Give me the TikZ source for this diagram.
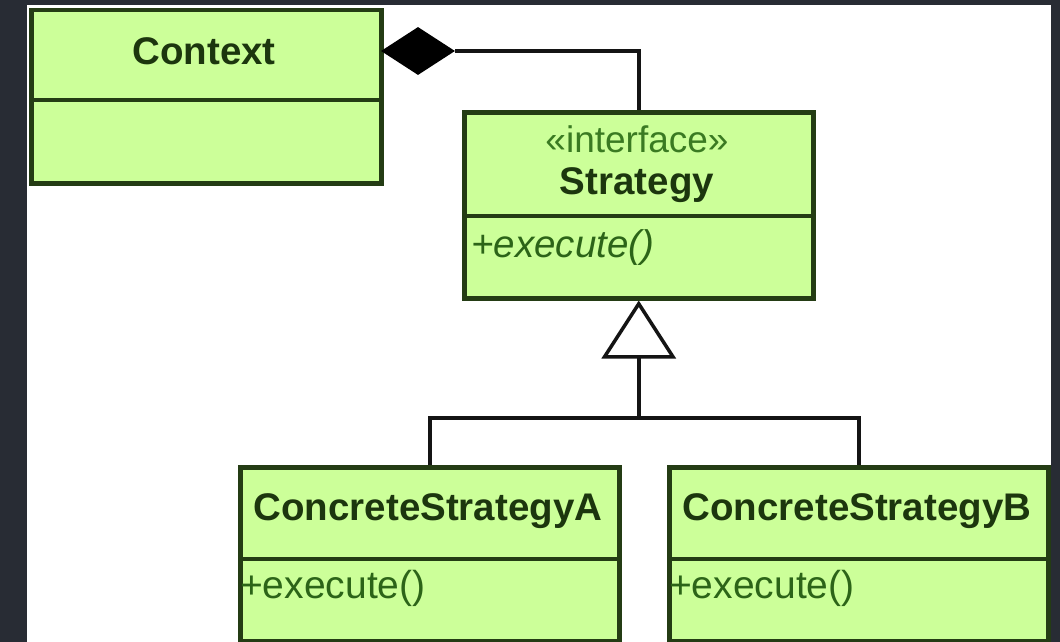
\documentclass[tikz,border=0pt]{standalone}
\usepackage{fontspec}
\setmainfont{Liberation Sans}
\usetikzlibrary{shapes.geometric,arrows.meta}
\definecolor{framecol}{HTML}{282C34}
\definecolor{classfill}{HTML}{CCFF99}
\definecolor{classline}{HTML}{243C14}
\definecolor{nametext}{HTML}{1C360E}
\definecolor{softtext}{HTML}{3A7A22}
\definecolor{methtext}{HTML}{2C6418}
\definecolor{wire}{HTML}{141414}
\begin{document}
\begin{tikzpicture}[x=1pt,y=-1pt,
  classbox/.style={rectangle, draw=classline, fill=classfill, line width=4.5pt,
    inner sep=0pt, anchor=north west},
  divider/.style={draw=classline, line width=4.5pt},
  classname/.style={font=\fontsize{38.5}{42}\selectfont\bfseries, text=nametext, inner sep=0pt},
  stereo/.style={font=\fontsize{37}{40}\selectfont, text=softtext, inner sep=0pt},
  method/.style={font=\fontsize{39}{42}\selectfont, text=methtext, inner sep=0pt, anchor=west},
  wireline/.style={draw=wire, line width=3.5pt},
]
% page background with dark frame
\fill[framecol] (0,0) rectangle (1060,642);
\fill[white] (27,5) rectangle (1051,642);
\useasboundingbox (0,0) rectangle (1060,642);

% Context
\node[classbox, minimum width=350pt, minimum height=173pt] (ctx) at (29,8) {};
\draw[divider] (29,100) -- (379,100);
\node[classname] (ctxname) at (204,51) {Context};

% Strategy interface
\node[classbox, minimum width=349pt, minimum height=186pt] (strat) at (462,110) {};
\draw[divider] (462,216) -- (811,216);
\node[stereo] (stratstereo) at (637,139) {«interface»};
\node[classname] (stratname) at (637,185) {Strategy};
\node[method, font=\fontsize{38.5}{42}\selectfont\itshape] (stratexec) at (471,248) {+execute()};

% Concrete strategies
\node[classbox, minimum width=379pt, minimum height=174pt] (csa) at (238,465) {};
\draw[divider] (238,559) -- (617,559);
\node[classname] (csaname) at (428,511) {ConcreteStrategyA};
\node[method] (csaexec) at (240,588) {+execute()};

\node[classbox, minimum width=379pt, minimum height=174pt] (csb) at (667,465) {};
\draw[divider] (667,559) -- (1046,559);
\node[classname] (csbname) at (857,511) {ConcreteStrategyB};
\node[method] (csbexec) at (669,588) {+execute()};

% composition: Context owns a Strategy
\node[diamond, fill=black, inner sep=0pt, minimum width=74pt, minimum height=48pt] (agg) at (418,51) {};
\draw[wireline] (agg.east) -| (strat.north);

% realisation tree
\coordinate (jn) at (strat.south |- 0,418);
\draw[wireline] (csa.north) |- (jn) -| (csb.north);
\draw[wireline, -{Triangle[open, length=58pt, width=74pt]}] (jn) -- (strat.south);
\end{tikzpicture}
\end{document}
